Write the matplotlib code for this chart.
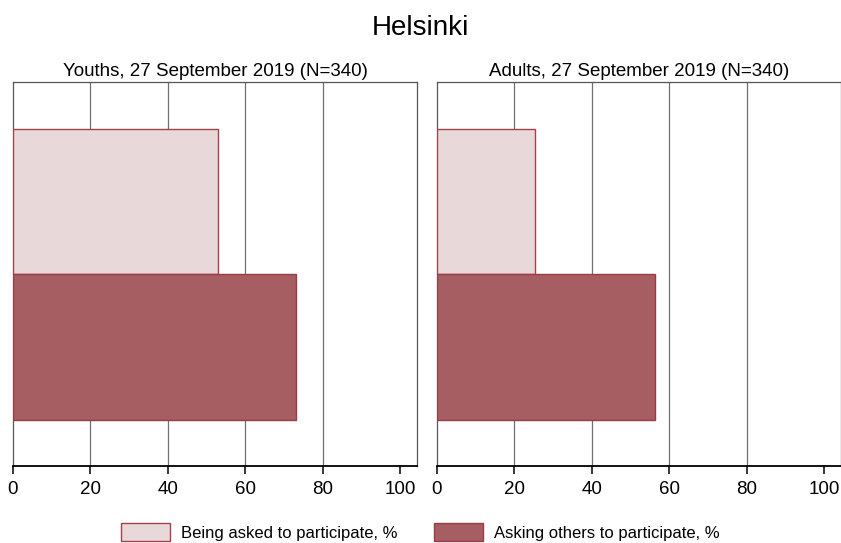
import matplotlib.pyplot as plt
from matplotlib.patches import Patch

plt.rcParams['font.family'] = ['Liberation Sans', 'DejaVu Sans']

panels = ["Youths, 27 September 2019 (N=340)", "Adults, 27 September 2019 (N=340)"]
asked = [53.0, 25.3]    # Being asked to participate, %
asking = [73.1, 56.3]   # Asking others to participate, %
series_labels = ["Being asked to participate, %", "Asking others to participate, %"]
xticks = [0, 20, 40, 60, 80, 100]

light_fill = "#e8d8da"
light_edge = "#a8404a"
dark_fill = "#a65e63"
dark_edge = "#983c46"

fig = plt.figure(figsize=(8.41, 5.43), dpi=100)
fig.suptitle("Helsinki", fontsize=20, y=0.972)

lefts = [13 / 841, 437 / 841]
for i, title in enumerate(panels):
    ax = fig.add_axes([lefts[i], 77 / 543, 404 / 841, 384 / 543])
    ax.barh(1, asked[i], height=1, left=0, color=light_fill, edgecolor=light_edge,
            linewidth=1, zorder=3)
    ax.barh(0, asking[i], height=1, left=0, color=dark_fill, edgecolor=dark_edge,
            linewidth=1, zorder=3)
    for g in [20, 40, 60, 80]:
        ax.axvline(g, color="#707070", linewidth=0.9, zorder=1)
    ax.set_xlim(0, 104.4)
    ax.set_ylim(-0.815, 1.82)
    ax.set_yticks([])
    ax.set_xticks(xticks)
    ax.tick_params(axis="x", direction="out", length=6, width=1.1, labelsize=13.5,
                   pad=5, colors="black")
    for s in ["left", "top", "right"]:
        ax.spines[s].set_color("#555555")
        ax.spines[s].set_linewidth(0.9)
    ax.spines["bottom"].set_color("black")
    ax.spines["bottom"].set_linewidth(1.3)
    ax.set_title(title, fontsize=13.5, pad=4)

handles = [Patch(facecolor=light_fill, edgecolor=light_edge, linewidth=1),
           Patch(facecolor=dark_fill, edgecolor=dark_edge, linewidth=1)]
fig.legend(handles, series_labels, loc="center", bbox_to_anchor=(0.5, 0.02),
           ncol=2, frameon=False, fontsize=12, handlelength=2.94, handleheight=1.32,
           handletextpad=0.66, columnspacing=2.16)

fig.savefig("out.png", dpi=100)
